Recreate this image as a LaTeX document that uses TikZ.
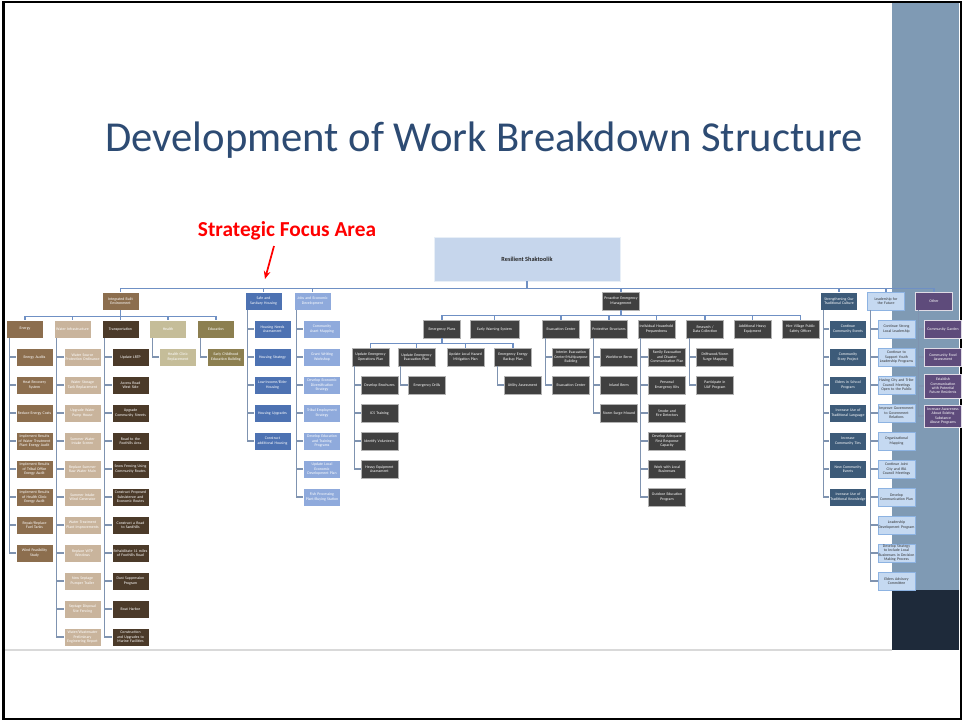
\documentclass[tikz,border=0pt]{standalone}
\usepackage{fontspec}
\setmainfont{Carlito}
\usetikzlibrary{arrows.meta}
\definecolor{cTitle}{HTML}{2D4B73}
\definecolor{cBand}{HTML}{7F9AB4}
\definecolor{cDark}{HTML}{1E2A3A}
\definecolor{cBus}{HTML}{6F90C4}
\definecolor{cConn}{HTML}{7F93B0}
\definecolor{cRoot}{HTML}{C6D6EC}
\definecolor{cBrown}{HTML}{8C6E4E}
\definecolor{cTan}{HTML}{C9B49C}
\definecolor{cDBrown}{HTML}{4B3A29}
\definecolor{cKhaki}{HTML}{C5BD99}
\definecolor{cOlive}{HTML}{8C7F50}
\definecolor{cMBlue}{HTML}{4D72B2}
\definecolor{cLBlue}{HTML}{8FAADC}
\definecolor{cGray}{HTML}{404040}
\definecolor{cSlate}{HTML}{3D5B79}
\definecolor{cPale}{HTML}{C5D9F1}
\definecolor{cPaleB}{HTML}{8DB3E2}
\definecolor{cPurple}{HTML}{5E4B7B}
\newcommand{\mkchain}[6]{%
  \foreach \t [count=\i from 0] in {#6} {%
    \node[#3] (#2\i) at (#4,{#5+28*\i}) {\t};
    \draw[conn] ([xshift=2.25pt]#1.south west) |- (#2\i.west);
  }}
\newcommand{\mkbus}[3]{\draw[bus] (#1.south) -- ++(0,#2) -| (#3.north);}
\newcommand{\nohyph}{\hyphenpenalty=10000\exhyphenpenalty=10000}
\begin{document}
\begin{tikzpicture}[x=0.75pt,y=-0.75pt,
  box/.style={draw=white, line width=0.3pt, minimum width=27.75pt, minimum height=13.5pt,
    inner sep=0pt, text width=26.5pt, align=center, font=\fontsize{2.9}{3.3}\selectfont\nohyph, text=white},
  brn/.style={box, fill=cBrown},
  tan/.style={box, fill=cTan},
  dbr/.style={box, fill=cDBrown},
  kha/.style={box, fill=cKhaki},
  oli/.style={box, fill=cOlive},
  mbl/.style={box, fill=cMBlue},
  lbl/.style={box, fill=cLBlue},
  gry/.style={box, fill=cGray, draw=gray!60},
  slt/.style={box, fill=cSlate},
  pal/.style={box, fill=cPale, draw=cPaleB, text=black!80, text width=27.5pt},
  pur/.style={box, fill=cPurple, draw=white!80!cPurple},
  conn/.style={draw=cConn, line width=0.9pt},
  bus/.style={draw=cBus, line width=0.9pt}]
\useasboundingbox (0,0) rectangle (965,721);
\fill[white] (0,0) rectangle (965,721);
% slide decoration
\fill[cBand] (892,3) rectangle (959,590);
\fill[cDark] (892,590) rectangle (959,650);
\draw[black!15, line width=0.8pt] (5,650) -- (892,650);
\draw[black, line width=1.2pt] (3,2) rectangle (961,719);
\draw[black, line width=1.6pt] (4,2) -- (4,719);
% title
\node[text=cTitle, font=\fontsize{32}{36}\selectfont, anchor=base] (title) at (484,151) {Development of Work Breakdown Structure};
\node[text=red, font=\bfseries\fontsize{16}{18}\selectfont, anchor=base] (sfa) at (287,236) {Strategic Focus Area};
\coordinate (sfaTip) at (265,279);
\draw[red, line width=1.3pt, -{Stealth[length=6pt,width=5pt]}] (274,246) -- (sfaTip);
% root
\node[fill=cRoot, draw=white!60!cRoot, minimum width=139.5pt, minimum height=33pt, font=\bfseries\fontsize{4.7}{5.5}\selectfont, text=black!85] (root) at (527,259) {Resilient Shaktoolik};
% level 1
\node[brn] (ibe) at (120.5,301) {Integrated Built Environment};
\node[mbl] (ssh) at (263.5,301) {Safe and Sanitary Housing};
\node[lbl] (jed) at (312.5,301) {Jobs and Economic Development};
\node[gry] (pem) at (621,301) {Proactive Emergency Management};
\node[slt] (sotc) at (839,301) {Strengthening Our Traditional Culture};
\node[pal] (lff) at (886,301) {Leadership for the Future};
\node[pur] (oth) at (934,301) {Other};
\foreach \c in {ibe,ssh,jed,pem,sotc,lff,oth} {\mkbus{root}{7}{\c}}
% IBE level 2
\node[brn] (energy) at (25,329) {Energy};
\node[tan] (water) at (72.5,329) {Water Infrastructure};
\node[dbr] (transp) at (120.5,329) {Transportation};
\node[kha] (health) at (168,329) {Health};
\node[oli] (educ) at (216,329) {Education};
\foreach \c in {energy,water,transp,health,educ} {\mkbus{ibe}{6}{\c}}
\mkchain{energy}{en}{brn}{34.5}{357}{Energy Audits,Heat Recovery System,Reduce Energy Costs,Implement Results of Water Treatment Plant Energy Audit,Implement Results of Tribal Office Energy Audit,Implement Results of Health Clinic Energy Audit,Repair/Replace Fuel Tanks,Wind Feasibility Study}
\mkchain{water}{wa}{tan}{82.5}{357}{Water Source Protection Ordinance,Water Storage Tank Replacement,Upgrade Water Pump House,Summer Water Intake Screen,Replace Summer Raw Water Main,Summer Intake Wind Generator,Water Treatment Plant Improvements,Replace WTP Windows,New Septage Pumper Trailer,Septage Disposal Site Fencing,Water/Wastewater Preliminary Engineering Report}
\mkchain{transp}{tr}{dbr}{130.5}{357}{Update LRTP,Access Road West Side,Upgrade Community Streets,Road to the Foothills Area,Snow Fencing Using Community Routes,Construct Proposed Subsistence and Economic Routes,Construct a Road to Sandhills,Rehabilitate 11 miles of Foothills Road,Dust Suppression Program,Boat Harbor,Construction and Upgrades to Marine Facilities}
\mkchain{health}{he}{kha}{178}{357}{Health Clinic Replacement}
\mkchain{educ}{ed}{oli}{226}{357}{Early Childhood Education Building}
% housing, jobs
\mkchain{ssh}{ho}{mbl}{272.5}{329}{Housing Needs Assessment,Housing Strategy,Low-Income/Elder Housing,Housing Upgrades,Construct additional Housing}
\mkchain{jed}{jo}{lbl}{322}{329}{Community Asset Mapping,Grant Writing Workshop,Develop Economic Diversification Strategy,Tribal Employment Strategy,Develop Education and Training Programs,Update Local Economic Development Plan,Fish Processing Plant/Buying Station}
% PEM level 2
\node[gry] (ep) at (442,329) {Emergency Plans};
\node[gry, minimum width=36.75pt, text width=34pt] (ews) at (494.5,329) {Early Warning System};
\node[gry] (evc) at (561,329) {Evacuation Center};
\node[gry] (ps) at (609,329) {Protective Structures};
\node[gry] (ihp) at (656.5,329) {Individual Household Preparedness};
\node[gry] (rdc) at (705,329) {Research / Data Collection};
\node[gry] (ahe) at (752.5,329) {Additional Heavy Equipment};
\node[gry] (vpso) at (800.5,329) {Hire Village Public Safety Officer};
\foreach \c in {ep,ews,evc,ps,ihp,rdc,ahe,vpso} {\mkbus{pem}{5}{\c}}
% EP level 3
\node[gry] (ueop) at (370.5,357) {Update Emergency Operations Plan};
\node[gry] (ueep) at (416.5,357) {Update Emergency Evacuation Plan};
\node[gry] (ulhmp) at (465.5,357) {Update Local Hazard Mitigation Plan};
\node[gry] (eebp) at (513,357) {Emergency Energy Backup Plan};
\foreach \c in {ueop,ueep,ulhmp,eebp} {\mkbus{ep}{5}{\c}}
\mkchain{ueop}{uo}{gry}{379.5}{385}{Develop Brochures,ICS Training,Identify Volunteers,Heavy Equipment Assessment}
\mkchain{ueep}{ue}{gry}{427}{385}{Emergency Drills}
\mkchain{eebp}{eb}{gry}{522.5}{385}{Utility Assessment}
\mkchain{evc}{ev}{gry}{571}{357}{Interim Evacuation Center/Multipurpose Building,Evacuation Center}
\mkchain{ps}{pr}{gry}{619}{357}{Workforce Berm,Inland Berm,Storm Surge Mound}
\mkchain{ihp}{ih}{gry}{667}{357}{Family Evacuation and Disaster Communication Plan,Personal Emergency Kits,Smoke and Fire Detectors,Develop Adequate First Response Capacity,Work with Local Businesses,Outdoor Education Program}
\mkchain{rdc}{rd}{gry}{715}{357}{Driftwood/Storm Surge Mapping,Participate in UAF Program}
% culture, leadership, other
\mkchain{sotc}{cu}{slt}{848}{329}{Continue Community Events,Community Story Project,Elders in School Program,Increase Use of Traditional Language,Increase Community Ties,New Community Events,Increase Use of Traditional Knowledge}
\mkchain{lff}{le}{pal}{896.5}{329}{Continue Strong Local Leadership,Continue to Support Youth Leadership Programs,Having City and Tribe Council Meetings Open to the Public,Improve Government to Government Relations,Organizational Mapping,Continue Joint City and IRA Council Meetings,Develop Communication Plan,Leadership Development Program,Develop Strategy to Include Local Businesses in Decision Making Process,Elders Advisory Committee}
\node[pur] (ot0) at (943,329) {Community Garden};
\node[pur] (ot1) at (943,357) {Community Food Assessment};
\node[pur, minimum height=18pt] (ot2) at (943,386) {Establish Communication with Potential Future Residents};
\node[pur, minimum height=16.5pt] (ot3) at (943,416) {Increase Awareness About Existing Substance Abuse Programs};
\foreach \c in {ot0,ot1,ot2,ot3} {\draw[conn] ([xshift=2.25pt]oth.south west) |- (\c.west);}
\end{tikzpicture}
\end{document}
